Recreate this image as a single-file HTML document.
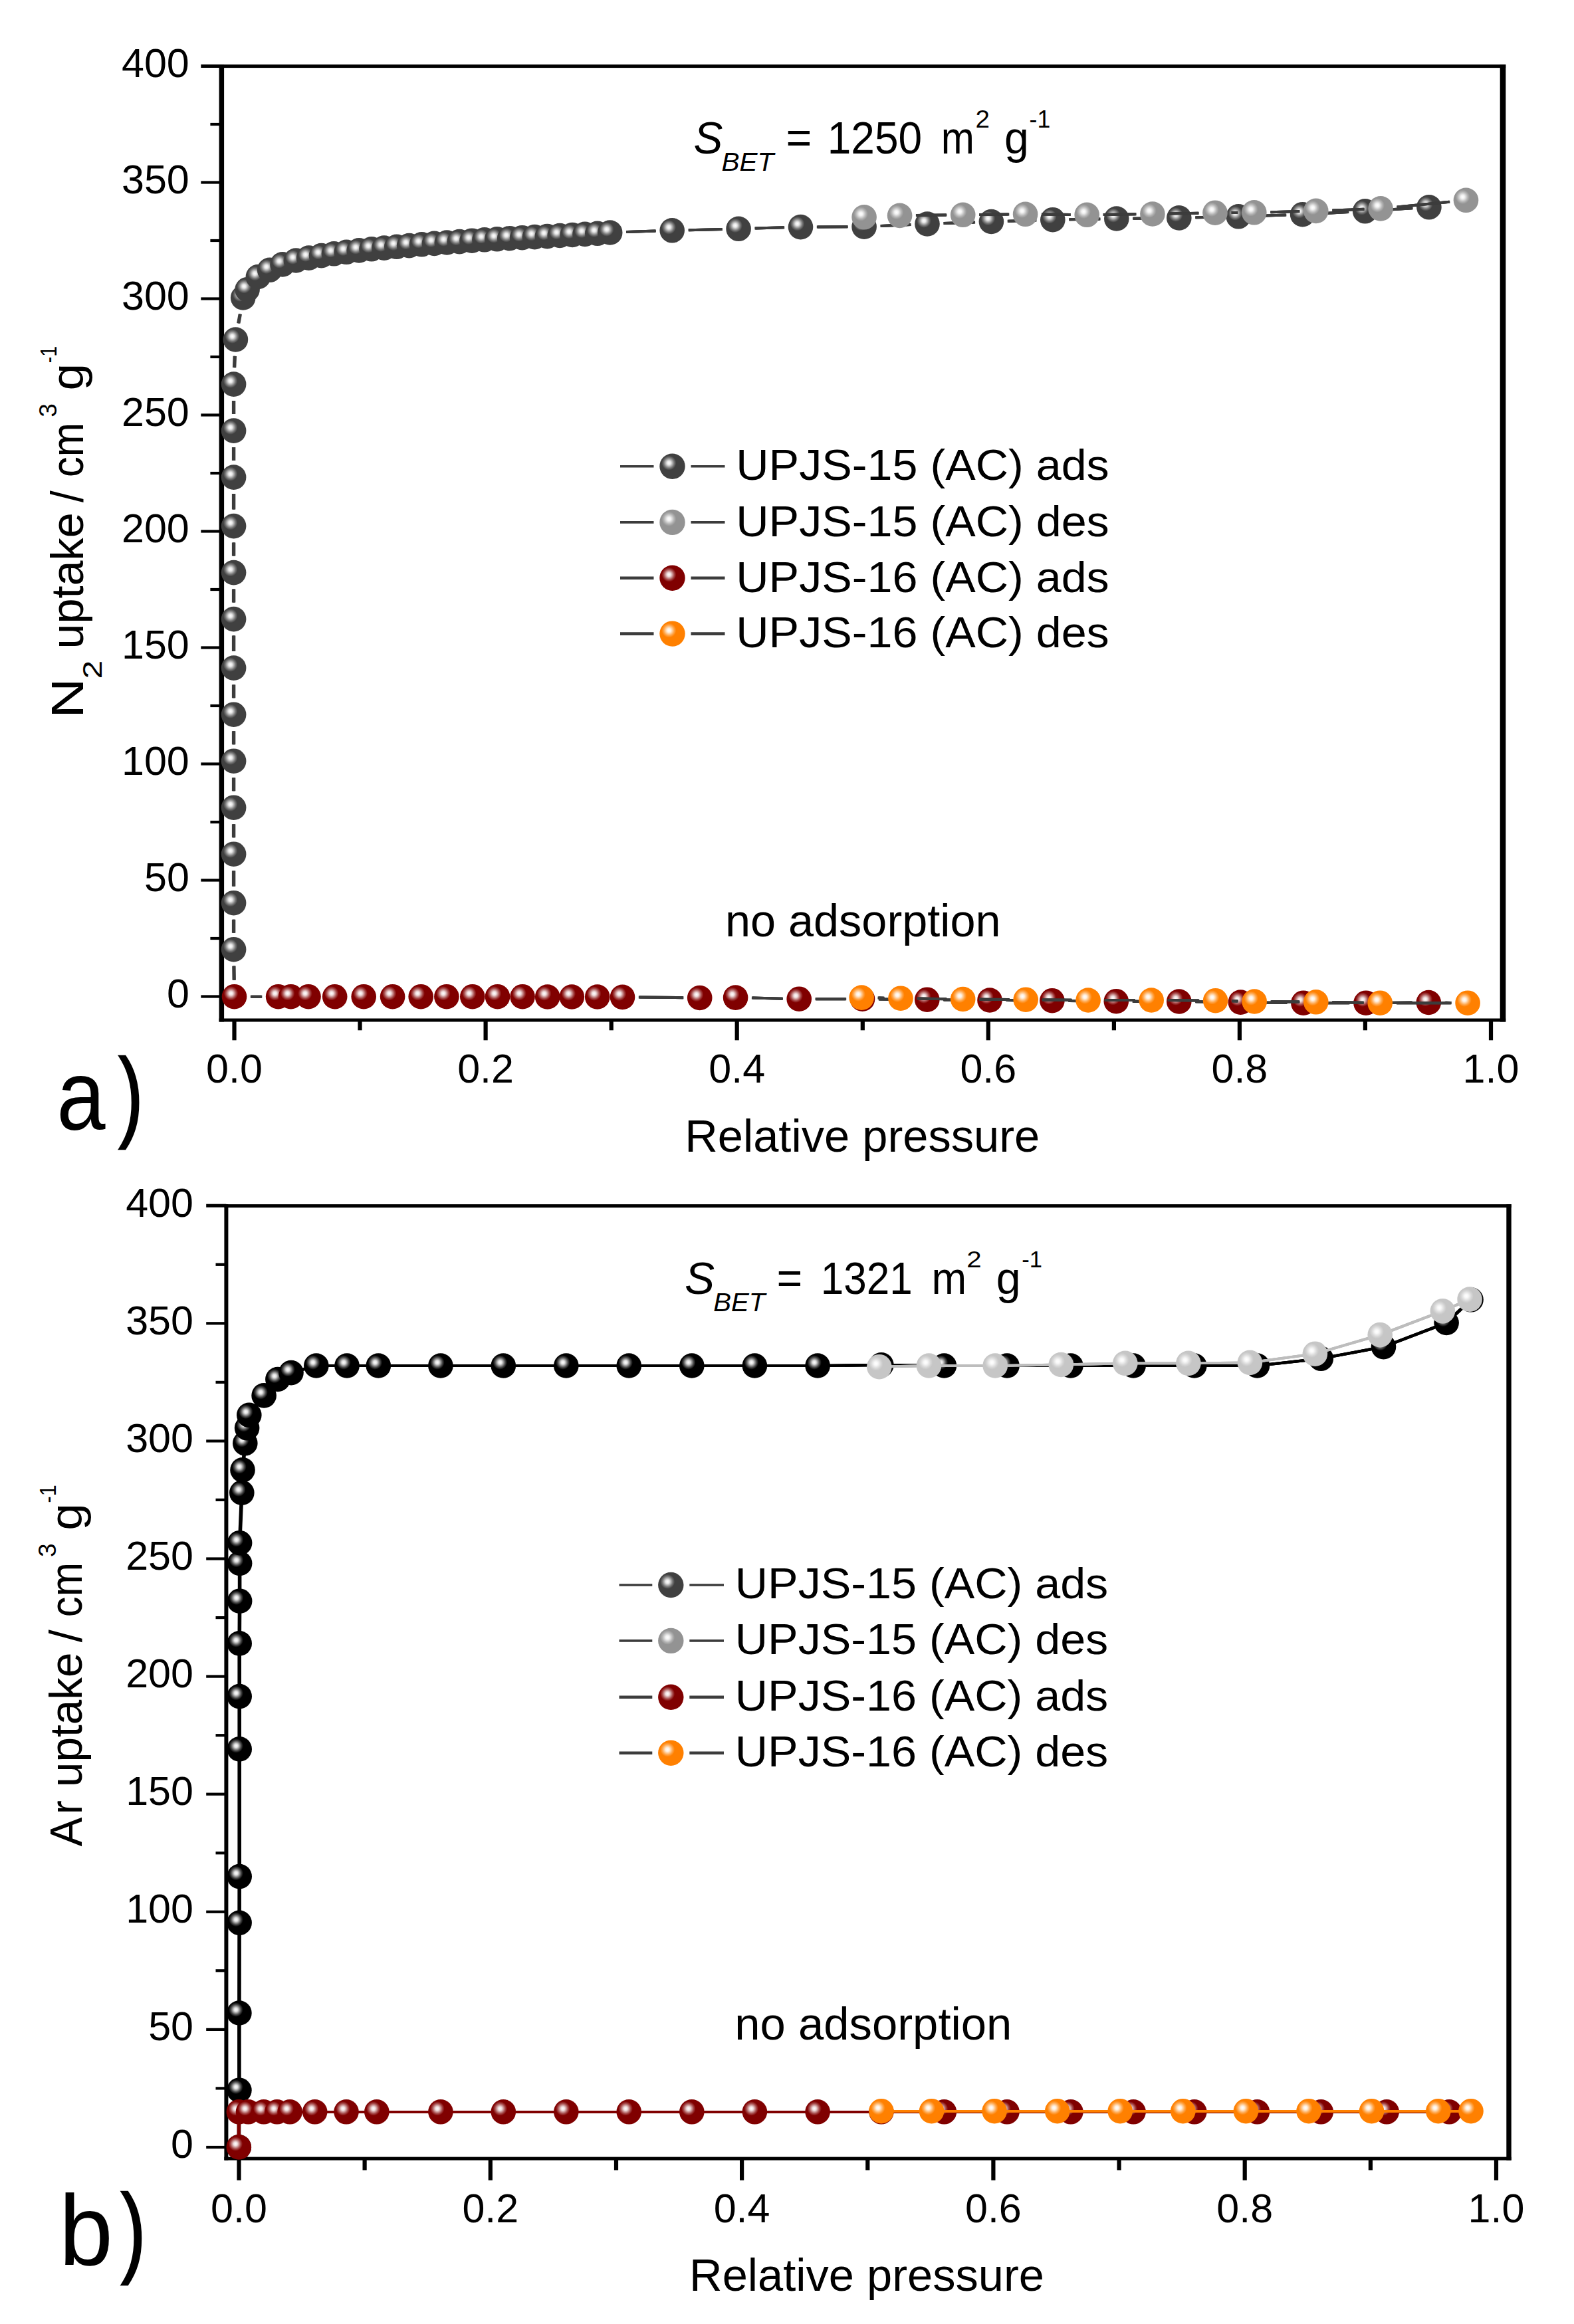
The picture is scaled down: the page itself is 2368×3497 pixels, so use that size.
<!DOCTYPE html>
<html lang="en"><head><meta charset="utf-8"><title>Adsorption isotherms</title>
<style>html,body{margin:0;padding:0;background:#fff}svg{display:block}text{font-family:'Liberation Sans', Arial, Helvetica, sans-serif;fill:#000}</style></head><body>
<svg width="2368" height="3497" viewBox="0 0 2368 3497">
<defs>
<radialGradient id="gdk" cx="0.368" cy="0.368" r="0.285" fx="0.368" fy="0.368"><stop offset="0" stop-color="#ffffff"/><stop offset="0.26" stop-color="#e8e8e8"/><stop offset="0.72" stop-color="#757575"/><stop offset="1" stop-color="#404040"/></radialGradient>
<radialGradient id="glt" cx="0.368" cy="0.368" r="0.285" fx="0.368" fy="0.368"><stop offset="0" stop-color="#ffffff"/><stop offset="0.26" stop-color="#f2f2f2"/><stop offset="0.72" stop-color="#b1b1b1"/><stop offset="1" stop-color="#939393"/></radialGradient>
<radialGradient id="gbk" cx="0.368" cy="0.368" r="0.285" fx="0.368" fy="0.368"><stop offset="0" stop-color="#ffffff"/><stop offset="0.26" stop-color="#e0e0e0"/><stop offset="0.72" stop-color="#474747"/><stop offset="1" stop-color="#000000"/></radialGradient>
<radialGradient id="gsl" cx="0.368" cy="0.368" r="0.285" fx="0.368" fy="0.368"><stop offset="0" stop-color="#ffffff"/><stop offset="0.26" stop-color="#f8f8f8"/><stop offset="0.72" stop-color="#d6d6d6"/><stop offset="1" stop-color="#c6c6c6"/></radialGradient>
<radialGradient id="grd" cx="0.368" cy="0.368" r="0.285" fx="0.368" fy="0.368"><stop offset="0" stop-color="#ffffff"/><stop offset="0.26" stop-color="#f0e0e0"/><stop offset="0.72" stop-color="#a44747"/><stop offset="1" stop-color="#800000"/></radialGradient>
<radialGradient id="gor" cx="0.368" cy="0.368" r="0.285" fx="0.368" fy="0.368"><stop offset="0" stop-color="#ffffff"/><stop offset="0.26" stop-color="#fff0e0"/><stop offset="0.72" stop-color="#ffa447"/><stop offset="1" stop-color="#ff8000"/></radialGradient>
</defs>
<rect width="2368" height="3497" fill="#fff"/>
<g fill="#000">
<rect x="329.6" y="97.1" width="7.5" height="1440.4"/>
<rect x="2256.7" y="97.1" width="8.6" height="1440.4"/>
<rect x="329.6" y="97.1" width="1935.6" height="5.0"/>
<rect x="329.6" y="1532.5" width="1935.6" height="5.0"/>
<rect x="302.3" y="1497.4" width="31.1" height="4.2"/>
<rect x="316.4" y="1409.9" width="17" height="4.2"/>
<rect x="302.3" y="1322.4" width="31.1" height="4.2"/>
<rect x="316.4" y="1234.9" width="17" height="4.2"/>
<rect x="302.3" y="1147.4" width="31.1" height="4.2"/>
<rect x="316.4" y="1059.9" width="17" height="4.2"/>
<rect x="302.3" y="972.4" width="31.1" height="4.2"/>
<rect x="316.4" y="884.9" width="17" height="4.2"/>
<rect x="302.3" y="797.4" width="31.1" height="4.2"/>
<rect x="316.4" y="709.9" width="17" height="4.2"/>
<rect x="302.3" y="622.4" width="31.1" height="4.2"/>
<rect x="316.4" y="534.9" width="17" height="4.2"/>
<rect x="302.3" y="447.4" width="31.1" height="4.2"/>
<rect x="316.4" y="359.9" width="17" height="4.2"/>
<rect x="302.3" y="272.4" width="31.1" height="4.2"/>
<rect x="316.4" y="184.9" width="17" height="4.2"/>
<rect x="302.3" y="97" width="31.1" height="5.0"/>
<rect x="349.4" y="1535" width="6.2" height="30.3"/>
<rect x="538.4" y="1535" width="6.2" height="15.3"/>
<rect x="727.5" y="1535" width="6.2" height="30.3"/>
<rect x="916.6" y="1535" width="6.2" height="15.3"/>
<rect x="1105.6" y="1535" width="6.2" height="30.3"/>
<rect x="1294.7" y="1535" width="6.2" height="15.3"/>
<rect x="1483.7" y="1535" width="6.2" height="30.3"/>
<rect x="1672.8" y="1535" width="6.2" height="15.3"/>
<rect x="1861.8" y="1535" width="6.2" height="30.3"/>
<rect x="2050.8" y="1535" width="6.2" height="15.3"/>
<rect x="2239.9" y="1535" width="6.2" height="30.3"/>
</g>
<g stroke="#3c3c3c" stroke-width="4.0" fill="none"><path id="ln1" d="M352.2 1474.7L351.9 1453.6M351.6 1403.7L351.6 1383.7M351.6 1333.7L351.6 1310.2M351.6 1260.2L351.6 1240.2M351.6 1190.2L351.6 1170.2M351.6 1120.2L351.6 1100.2M351.6 1050.2L351.6 1030.2M351.6 980.1L351.6 956.6M351.6 906.6L351.6 886.6M351.6 836.6L351.6 816.6M351.6 766.6L351.6 743.1M351.6 693.1L351.6 673.1M351.6 623.1L351.6 603.1M352.6 553.2L353.3 535.9M358.8 486.3L361.3 472.6M942.7 349.1L986.2 347.6M1036.2 346.2L1086.2 345M1136.1 343.6L1179.5 342.3M1229.5 341.5L1275.1 341.3M1325.1 340.1L1370 338.1M1420 336.1L1466.4 334.4M1516.4 332.7L1558.8 331.5M1608.8 330.2L1654.9 329.4M1704.8 328.7L1748.8 328.2M1798.8 327.3L1838.2 326.4M1888.2 325L1934.6 323.5M1984.5 321.4L2028.7 319M2078.6 316.2L2124.9 313.3"/><use href="#ln1" x="-0.7"/><use href="#ln1" x="0.7"/></g>
<g fill="url(#gdk)">
<circle cx="351.6" cy="1428.7" r="18.8"/><circle cx="351.6" cy="1358.7" r="18.8"/><circle cx="351.6" cy="1285.2" r="18.8"/><circle cx="351.6" cy="1215.2" r="18.8"/><circle cx="351.6" cy="1145.2" r="18.8"/><circle cx="351.6" cy="1075.2" r="18.8"/><circle cx="351.6" cy="1005.1" r="18.8"/><circle cx="351.6" cy="931.6" r="18.8"/><circle cx="351.6" cy="861.6" r="18.8"/><circle cx="351.6" cy="791.6" r="18.8"/><circle cx="351.6" cy="718.1" r="18.8"/><circle cx="351.6" cy="648.1" r="18.8"/><circle cx="351.6" cy="578.1" r="18.8"/><circle cx="354.4" cy="511" r="18.8"/><circle cx="365.7" cy="448" r="18.8"/><circle cx="372.1" cy="435.7" r="18.8"/><circle cx="388.4" cy="416.5" r="18.8"/><circle cx="405.7" cy="406.3" r="18.8"/><circle cx="425" cy="397.9" r="18.8"/><circle cx="445.3" cy="392" r="18.8"/><circle cx="464.6" cy="388.1" r="18.8"/><circle cx="483.5" cy="384.6" r="18.8"/><circle cx="502.4" cy="381.8" r="18.8"/><circle cx="521.2" cy="379.3" r="18.8"/><circle cx="540.1" cy="376.9" r="18.8"/><circle cx="559" cy="374.8" r="18.8"/><circle cx="577.9" cy="373.1" r="18.8"/><circle cx="596.8" cy="371.3" r="18.8"/><circle cx="615.6" cy="369.6" r="18.8"/><circle cx="634.5" cy="367.8" r="18.8"/><circle cx="653.4" cy="366.4" r="18.8"/><circle cx="672.3" cy="365" r="18.8"/><circle cx="691.2" cy="363.6" r="18.8"/><circle cx="710" cy="362.2" r="18.8"/><circle cx="728.9" cy="360.8" r="18.8"/><circle cx="747.8" cy="359.8" r="18.8"/><circle cx="766.7" cy="358.7" r="18.8"/><circle cx="785.6" cy="357.7" r="18.8"/><circle cx="804.4" cy="356.6" r="18.8"/><circle cx="823.3" cy="355.6" r="18.8"/><circle cx="842.2" cy="354.5" r="18.8"/><circle cx="861.1" cy="353.5" r="18.8"/><circle cx="880" cy="352.4" r="18.8"/><circle cx="898.8" cy="351.3" r="18.8"/><circle cx="917.7" cy="350" r="18.8"/><circle cx="1011.2" cy="346.8" r="18.8"/><circle cx="1111.1" cy="344.3" r="18.8"/><circle cx="1204.5" cy="341.6" r="18.8"/><circle cx="1300.1" cy="341.2" r="18.8"/><circle cx="1395" cy="337" r="18.8"/><circle cx="1491.4" cy="333.5" r="18.8"/><circle cx="1583.8" cy="330.7" r="18.8"/><circle cx="1679.8" cy="329" r="18.8"/><circle cx="1773.8" cy="327.9" r="18.8"/><circle cx="1863.2" cy="325.8" r="18.8"/><circle cx="1959.6" cy="322.7" r="18.8"/><circle cx="2053.7" cy="317.8" r="18.8"/><circle cx="2149.9" cy="311.8" r="18.8"/>
</g>
<g stroke="#3c3c3c" stroke-width="4.0" fill="none"><path id="ln2" d="M2180.6 303.7L2102 311.5M2052.1 314.8L2004.8 316.5M1954.8 318.1L1911.8 319.2M1861.8 320L1853 320.1M1803 320.7L1758.9 321.5M1708.9 322.3L1660.2 323M1610.2 323.1L1567.6 322.6M1517.6 322.6L1473.7 323.1M1423.7 323.6L1378.6 324.1"/><use href="#ln2" x="-0.7"/><use href="#ln2" x="0.7"/></g>
<g fill="url(#glt)">
<circle cx="1300.1" cy="326.8" r="18.8"/><circle cx="1353.6" cy="324.4" r="18.8"/><circle cx="1448.7" cy="323.3" r="18.8"/><circle cx="1542.6" cy="322.3" r="18.8"/><circle cx="1635.2" cy="323.3" r="18.8"/><circle cx="1733.9" cy="322" r="18.8"/><circle cx="1828" cy="320.2" r="18.8"/><circle cx="1886.8" cy="319.8" r="18.8"/><circle cx="1979.8" cy="317.4" r="18.8"/><circle cx="2077.1" cy="313.9" r="18.8"/><circle cx="2205.5" cy="301.3" r="18.8"/>
</g>
<g stroke="#3c3c3c" stroke-width="4.0" fill="none"><path id="ln3" d="M377.5 1499.7L393.6 1499.7M961.5 1500.6L1027.7 1501.2M1131.6 1501.6L1177.3 1502.7M1227.2 1503.2L1272.5 1503.2M1322.5 1503.5L1369.8 1504M1419.8 1504.4L1464 1504.8M1514 1505.1L1557.9 1505.5M1607.9 1505.9L1654.3 1506.4M1704.3 1506.8L1748.8 1507M1798.8 1507.3L1841.4 1507.8M1891.4 1508.4L1935.9 1508.9M1985.9 1509.2L2030 1509.2M2080 1509L2124.3 1508.6"/><use href="#ln3" x="-0.7"/><use href="#ln3" x="0.7"/></g>
<g fill="url(#grd)">
<circle cx="352.5" cy="1499.7" r="18.8"/><circle cx="418.6" cy="1499.7" r="18.8"/><circle cx="437.6" cy="1499.7" r="18.8"/><circle cx="464" cy="1499.7" r="18.8"/><circle cx="503.7" cy="1499.7" r="18.8"/><circle cx="547.2" cy="1499.7" r="18.8"/><circle cx="590.6" cy="1499.7" r="18.8"/><circle cx="633.2" cy="1499.7" r="18.8"/><circle cx="671.9" cy="1499.7" r="18.8"/><circle cx="710.8" cy="1499.7" r="18.8"/><circle cx="748.5" cy="1499.7" r="18.8"/><circle cx="786.1" cy="1499.7" r="18.8"/><circle cx="823.7" cy="1500" r="18.8"/><circle cx="860.3" cy="1500" r="18.8"/><circle cx="898.7" cy="1500" r="18.8"/><circle cx="936.5" cy="1500.4" r="18.8"/><circle cx="1052.7" cy="1501.5" r="18.8"/><circle cx="1106.6" cy="1501.1" r="18.8"/><circle cx="1202.2" cy="1503.2" r="18.8"/><circle cx="1297.5" cy="1503.2" r="18.8"/><circle cx="1394.8" cy="1504.2" r="18.8"/><circle cx="1489" cy="1505" r="18.8"/><circle cx="1582.9" cy="1505.7" r="18.8"/><circle cx="1679.3" cy="1506.7" r="18.8"/><circle cx="1773.8" cy="1507" r="18.8"/><circle cx="1866.4" cy="1508.1" r="18.8"/><circle cx="1960.9" cy="1509.2" r="18.8"/><circle cx="2055" cy="1509.2" r="18.8"/><circle cx="2149.3" cy="1508.5" r="18.8"/>
</g>
<g stroke="#3c3c3c" stroke-width="4.0" fill="none"><path id="ln4" d="M2174.3 1508.7L2183.1 1508.9M2183.1 1509.2L2101.2 1509.2M2051.2 1508.8L2004.8 1508.1M1954.8 1507.6L1912.2 1507.2M1862.2 1506.5L1853.6 1506.2M1803.6 1505.5L1757.2 1505.1M1707.2 1505L1662.1 1505M1612.1 1504.8L1568.2 1504.4M1518.2 1504.1L1473.7 1503.7M1423.7 1503.2L1380 1502.5M1330 1501.7L1321.2 1501.5"/><use href="#ln4" x="-0.7"/><use href="#ln4" x="0.7"/></g>
<g fill="url(#gor)">
<circle cx="1296.2" cy="1501.1" r="18.8"/><circle cx="1355" cy="1502.2" r="18.8"/><circle cx="1448.7" cy="1503.5" r="18.8"/><circle cx="1543.2" cy="1504.2" r="18.8"/><circle cx="1637.1" cy="1505" r="18.8"/><circle cx="1732.2" cy="1505" r="18.8"/><circle cx="1828.6" cy="1505.7" r="18.8"/><circle cx="1887.2" cy="1507" r="18.8"/><circle cx="1979.8" cy="1507.8" r="18.8"/><circle cx="2076.2" cy="1509.2" r="18.8"/><circle cx="2208.1" cy="1509.2" r="18.8"/>
</g>
<text x="250.9" y="1515.8" font-size="61">0</text>
<text x="217.0" y="1340.8" font-size="61">50</text>
<text x="183.0" y="1165.8" font-size="61">100</text>
<text x="183.0" y="990.8" font-size="61">150</text>
<text x="183.0" y="815.8" font-size="61">200</text>
<text x="183.0" y="640.8" font-size="61">250</text>
<text x="183.0" y="465.8" font-size="61">300</text>
<text x="183.0" y="290.8" font-size="61">350</text>
<text x="183.0" y="115.8" font-size="61">400</text>
<text x="310.1" y="1628.8" font-size="61">0.0</text>
<text x="688.2" y="1628.8" font-size="61">0.2</text>
<text x="1066.3" y="1628.8" font-size="61">0.4</text>
<text x="1444.4" y="1628.8" font-size="61">0.6</text>
<text x="1822.5" y="1628.8" font-size="61">0.8</text>
<text x="2200.6" y="1628.8" font-size="61">1.0</text>
<text transform="translate(1030.2,1732.8) scale(1.0095,1.0)" font-size="68">Relative pressure</text>
<text transform="translate(85.2,1699.8) scale(0.8784,1.0)" font-size="150">a</text>
<text transform="translate(178.5,1698.0) scale(0.7372,1.0)" font-size="150" stroke="#000" stroke-width="2.6">)</text>
<text transform="translate(1090.9,1409.2) scale(1.0064,1.0)" font-size="68">no adsorption</text>
<text transform="translate(1043.6,230.9) scale(0.9664,1.0)" font-size="68" font-style="italic">S</text>
<text transform="translate(1085.5,257.3) scale(1.0505,1.0)" font-size="38.6" font-style="italic">BET</text>
<text transform="translate(1182.6,230.9) scale(0.9765,1.0)" font-size="68">=</text>
<text transform="translate(1244.7,230.9) scale(0.9420,1.0)" font-size="68">1250</text>
<text transform="translate(1415.8,230.9) scale(0.8859,1.0)" font-size="68">m</text>
<text transform="translate(1467.4,191.7) scale(1.0726,1.0)" font-size="36">2</text>
<text transform="translate(1511.0,230.9) scale(0.9757,1.0)" font-size="68">g</text>
<text transform="translate(1548.6,191.7) scale(0.9889,1.0)" font-size="36">-1</text>
<path d="M933 701.7H983.5M1039.5 701.7H1090.5" stroke="#3c3c3c" stroke-width="3.6"/>
<circle cx="1011.5" cy="701.7" r="19.2" fill="url(#gdk)"/>
<text transform="translate(1107.3,722.3) scale(1.0669,1.0)" font-size="64">UPJS-15 (AC) ads</text>
<path d="M933 785.9H983.5M1039.5 785.9H1090.5" stroke="#3c3c3c" stroke-width="3.6"/>
<circle cx="1011.5" cy="785.9" r="19.2" fill="url(#glt)"/>
<text transform="translate(1107.3,806.7) scale(1.0669,1.0)" font-size="64">UPJS-15 (AC) des</text>
<path d="M933 869.7H983.5M1039.5 869.7H1090.5" stroke="#3c3c3c" stroke-width="4.6"/>
<circle cx="1011.5" cy="869.7" r="19.2" fill="url(#grd)"/>
<text transform="translate(1107.3,890.6) scale(1.0669,1.0)" font-size="64">UPJS-16 (AC) ads</text>
<path d="M933 953.6H983.5M1039.5 953.6H1090.5" stroke="#3c3c3c" stroke-width="4.6"/>
<circle cx="1011.5" cy="953.6" r="19.2" fill="url(#gor)"/>
<text transform="translate(1107.3,974.4) scale(1.0669,1.0)" font-size="64">UPJS-16 (AC) des</text>
<g transform="translate(125.4,1075) rotate(-90)">
<text transform="translate(-5.8,0.0) scale(1.2261,1.0)" font-size="68">N</text>
<text transform="translate(53.6,27.6) scale(1.2176,1.0)" font-size="41">2</text>
<text transform="translate(98.4,0.0) scale(1.0058,1.0)" font-size="68">uptake</text>
<text transform="translate(318.9,0.0) scale(0.9359,1.0)" font-size="68">/</text>
<text transform="translate(356.9,0.0) scale(0.9071,1.0)" font-size="68">cm</text>
<text transform="translate(447.2,-40.2) scale(1.0265,1.0)" font-size="36">3</text>
<text transform="translate(487.4,0.0) scale(1.0792,1.0)" font-size="68">g</text>
<text transform="translate(528.8,-40.2) scale(0.7918,1.0)" font-size="36">-1</text>
</g>
<g fill="#000">
<rect x="337.4" y="1812.1" width="6.0" height="1438.5"/>
<rect x="2266.3" y="1812.1" width="7.4" height="1438.5"/>
<rect x="337.4" y="1812.1" width="1936.3" height="5.0"/>
<rect x="337.4" y="3245.6" width="1936.3" height="5.0"/>
<rect x="310.2" y="3228.9" width="30.2" height="4.2"/>
<rect x="324.5" y="3140.3" width="15.9" height="4.2"/>
<rect x="310.2" y="3051.8" width="30.2" height="4.2"/>
<rect x="324.5" y="2963.2" width="15.9" height="4.2"/>
<rect x="310.2" y="2874.7" width="30.2" height="4.2"/>
<rect x="324.5" y="2786.2" width="15.9" height="4.2"/>
<rect x="310.2" y="2697.6" width="30.2" height="4.2"/>
<rect x="324.5" y="2609.1" width="15.9" height="4.2"/>
<rect x="310.2" y="2520.5" width="30.2" height="4.2"/>
<rect x="324.5" y="2432" width="15.9" height="4.2"/>
<rect x="310.2" y="2343.4" width="30.2" height="4.2"/>
<rect x="324.5" y="2254.8" width="15.9" height="4.2"/>
<rect x="310.2" y="2166.3" width="30.2" height="4.2"/>
<rect x="324.5" y="2077.8" width="15.9" height="4.2"/>
<rect x="310.2" y="1989.2" width="30.2" height="4.2"/>
<rect x="324.5" y="1900.7" width="15.9" height="4.2"/>
<rect x="310.2" y="1811.7" width="30.2" height="5.0"/>
<rect x="356.4" y="3248.1" width="6.2" height="32.6"/>
<rect x="545.5" y="3248.1" width="6.2" height="17.4"/>
<rect x="734.7" y="3248.1" width="6.2" height="32.6"/>
<rect x="923.9" y="3248.1" width="6.2" height="17.4"/>
<rect x="1113" y="3248.1" width="6.2" height="32.6"/>
<rect x="1302.2" y="3248.1" width="6.2" height="17.4"/>
<rect x="1491.3" y="3248.1" width="6.2" height="32.6"/>
<rect x="1680.5" y="3248.1" width="6.2" height="17.4"/>
<rect x="1869.6" y="3248.1" width="6.2" height="32.6"/>
<rect x="2058.8" y="3248.1" width="6.2" height="17.4"/>
<rect x="2247.9" y="3248.1" width="6.2" height="32.6"/>
</g>
<g stroke="#000" stroke-width="4.2" fill="none" stroke-linejoin="round"><path id="ln5" d="M359.3 3230.9L359.9 3145.2L359.9 3029L360.1 2893.3L360.2 2823.6L360.2 2631.9L360.2 2552.6L360.2 2472.9L360.6 2409.2L360.6 2352.5L360.6 2321.7L363.8 2246.2L365 2211.9L368.8 2171.8L371.6 2148.8L374.8 2129.3L397.1 2099.9L417.9 2075.5L438 2065.6L475.8 2055L522 2055L569.3 2055L662.9 2055L757.3 2055L851.8 2055L946.2 2055L1040.8 2055L1135.4 2055L1230.1 2055L1325.9 2053.9L1420.4 2055L1515 2055L1610.9 2055L1705.1 2055L1796.8 2055L1891.4 2055L1987.3 2044.3L2081.5 2026.6L2176.1 1990.5L2213 1955.8"/><use href="#ln5" x="-0.7"/><use href="#ln5" x="0.7"/></g>
<g fill="url(#gbk)">
<circle cx="359.3" cy="3230.9" r="18.8"/><circle cx="359.9" cy="3145.2" r="18.8"/><circle cx="359.9" cy="3029" r="18.8"/><circle cx="360.1" cy="2893.3" r="18.8"/><circle cx="360.2" cy="2823.6" r="18.8"/><circle cx="360.2" cy="2631.9" r="18.8"/><circle cx="360.2" cy="2552.6" r="18.8"/><circle cx="360.2" cy="2472.9" r="18.8"/><circle cx="360.6" cy="2409.2" r="18.8"/><circle cx="360.6" cy="2352.5" r="18.8"/><circle cx="360.6" cy="2321.7" r="18.8"/><circle cx="363.8" cy="2246.2" r="18.8"/><circle cx="365" cy="2211.9" r="18.8"/><circle cx="368.8" cy="2171.8" r="18.8"/><circle cx="371.6" cy="2148.8" r="18.8"/><circle cx="374.8" cy="2129.3" r="18.8"/><circle cx="397.1" cy="2099.9" r="18.8"/><circle cx="417.9" cy="2075.5" r="18.8"/><circle cx="438" cy="2065.6" r="18.8"/><circle cx="475.8" cy="2055" r="18.8"/><circle cx="522" cy="2055" r="18.8"/><circle cx="569.3" cy="2055" r="18.8"/><circle cx="662.9" cy="2055" r="18.8"/><circle cx="757.3" cy="2055" r="18.8"/><circle cx="851.8" cy="2055" r="18.8"/><circle cx="946.2" cy="2055" r="18.8"/><circle cx="1040.8" cy="2055" r="18.8"/><circle cx="1135.4" cy="2055" r="18.8"/><circle cx="1230.1" cy="2055" r="18.8"/><circle cx="1325.9" cy="2053.9" r="18.8"/><circle cx="1420.4" cy="2055" r="18.8"/><circle cx="1515" cy="2055" r="18.8"/><circle cx="1610.9" cy="2055" r="18.8"/><circle cx="1705.1" cy="2055" r="18.8"/><circle cx="1796.8" cy="2055" r="18.8"/><circle cx="1891.4" cy="2055" r="18.8"/><circle cx="1987.3" cy="2044.3" r="18.8"/><circle cx="2081.5" cy="2026.6" r="18.8"/><circle cx="2176.1" cy="1990.5" r="18.8"/><circle cx="2213" cy="1955.8" r="18.8"/>
</g>
<g stroke="#bdbdbd" stroke-width="3.8" fill="none" stroke-linejoin="round"><path id="ln6" d="M2211.1 1955.1L2170.4 1972.8L2076.2 2008.6L1978.4 2037.2L1880.4 2050.4L1787.9 2051.4L1692.8 2051.4L1596.3 2053.5L1497.2 2055L1397.5 2055L1322.8 2056.7"/><use href="#ln6" x="-0.7"/><use href="#ln6" x="0.7"/></g>
<g fill="url(#gsl)">
<circle cx="1322.8" cy="2056.7" r="18.8"/><circle cx="1397.5" cy="2055" r="18.8"/><circle cx="1497.2" cy="2055" r="18.8"/><circle cx="1596.3" cy="2053.5" r="18.8"/><circle cx="1692.8" cy="2051.4" r="18.8"/><circle cx="1787.9" cy="2051.4" r="18.8"/><circle cx="1880.4" cy="2050.4" r="18.8"/><circle cx="1978.4" cy="2037.2" r="18.8"/><circle cx="2076.2" cy="2008.6" r="18.8"/><circle cx="2170.4" cy="1972.8" r="18.8"/><circle cx="2211.1" cy="1955.1" r="18.8"/>
</g>
<g stroke="#800000" stroke-width="3.8" fill="none" stroke-linejoin="round"><path id="ln7" d="M359.3 3230.9L359.3 3177.8L373.5 3177.8L396.8 3177.8L416.8 3177.8L436.1 3177.8L473.7 3177.8L521 3177.8L566.8 3177.8L662.9 3177.8L757.3 3177.8L851.8 3177.8L946.2 3177.8L1040.8 3177.8L1135.4 3177.8L1230.1 3177.8L1325.9 3177.8L1420.4 3177.8L1515 3177.8L1610.9 3177.8L1705.1 3177.8L1796.8 3177.8L1891.4 3177.8L1987.3 3177.8L2086.2 3177.8L2180.2 3177.8"/><use href="#ln7" x="-0.7"/><use href="#ln7" x="0.7"/></g>
<g fill="url(#grd)">
<circle cx="359.3" cy="3230.9" r="18.8"/><circle cx="359.3" cy="3177.8" r="18.8"/><circle cx="373.5" cy="3177.8" r="18.8"/><circle cx="396.8" cy="3177.8" r="18.8"/><circle cx="416.8" cy="3177.8" r="18.8"/><circle cx="436.1" cy="3177.8" r="18.8"/><circle cx="473.7" cy="3177.8" r="18.8"/><circle cx="521" cy="3177.8" r="18.8"/><circle cx="566.8" cy="3177.8" r="18.8"/><circle cx="662.9" cy="3177.8" r="18.8"/><circle cx="757.3" cy="3177.8" r="18.8"/><circle cx="851.8" cy="3177.8" r="18.8"/><circle cx="946.2" cy="3177.8" r="18.8"/><circle cx="1040.8" cy="3177.8" r="18.8"/><circle cx="1135.4" cy="3177.8" r="18.8"/><circle cx="1230.1" cy="3177.8" r="18.8"/><circle cx="1325.9" cy="3177.8" r="18.8"/><circle cx="1420.4" cy="3177.8" r="18.8"/><circle cx="1515" cy="3177.8" r="18.8"/><circle cx="1610.9" cy="3177.8" r="18.8"/><circle cx="1705.1" cy="3177.8" r="18.8"/><circle cx="1796.8" cy="3177.8" r="18.8"/><circle cx="1891.4" cy="3177.8" r="18.8"/><circle cx="1987.3" cy="3177.8" r="18.8"/><circle cx="2086.2" cy="3177.8" r="18.8"/><circle cx="2180.2" cy="3177.8" r="18.8"/>
</g>
<g stroke="#ff8000" stroke-width="3.6" fill="none" stroke-linejoin="round"><path id="ln8" d="M2213 3176.7L2163.8 3176.7L2063.5 3176.7L1969 3176.7L1874.4 3176.7L1779.8 3176.7L1685.2 3176.7L1590.7 3176.7L1496.1 3176.7L1401.5 3176.7L1325.9 3176.7"/><use href="#ln8" x="-0.7"/><use href="#ln8" x="0.7"/></g>
<g fill="url(#gor)">
<circle cx="1325.9" cy="3176.7" r="18.8"/><circle cx="1401.5" cy="3176.7" r="18.8"/><circle cx="1496.1" cy="3176.7" r="18.8"/><circle cx="1590.7" cy="3176.7" r="18.8"/><circle cx="1685.2" cy="3176.7" r="18.8"/><circle cx="1779.8" cy="3176.7" r="18.8"/><circle cx="1874.4" cy="3176.7" r="18.8"/><circle cx="1969" cy="3176.7" r="18.8"/><circle cx="2063.5" cy="3176.7" r="18.8"/><circle cx="2163.8" cy="3176.7" r="18.8"/><circle cx="2213" cy="3176.7" r="18.8"/>
</g>
<text x="257.1" y="3247.3" font-size="61">0</text>
<text x="223.2" y="3070.2" font-size="61">50</text>
<text x="189.2" y="2893.1" font-size="61">100</text>
<text x="189.2" y="2716.0" font-size="61">150</text>
<text x="189.2" y="2538.9" font-size="61">200</text>
<text x="189.2" y="2361.8" font-size="61">250</text>
<text x="189.2" y="2184.7" font-size="61">300</text>
<text x="189.2" y="2007.6" font-size="61">350</text>
<text x="189.2" y="1830.5" font-size="61">400</text>
<text x="317.1" y="3344.3" font-size="61">0.0</text>
<text x="695.4" y="3344.3" font-size="61">0.2</text>
<text x="1073.7" y="3344.3" font-size="61">0.4</text>
<text x="1452.0" y="3344.3" font-size="61">0.6</text>
<text x="1830.3" y="3344.3" font-size="61">0.8</text>
<text x="2208.6" y="3344.3" font-size="61">1.0</text>
<text transform="translate(1037.1,3446.7) scale(1.0089,1.0)" font-size="68">Relative pressure</text>
<text transform="translate(88.8,3407.5) scale(0.9740,1.0)" font-size="150">b</text>
<text transform="translate(182.0,3407.0) scale(0.7443,1.0)" font-size="150" stroke="#000" stroke-width="2.6">)</text>
<text transform="translate(1105.3,3068.5) scale(1.0121,1.0)" font-size="68">no adsorption</text>
<text transform="translate(1030.1,1946.5) scale(0.9940,1.0)" font-size="68" font-style="italic">S</text>
<text transform="translate(1073.3,1972.9) scale(1.0401,1.0)" font-size="38.6" font-style="italic">BET</text>
<text transform="translate(1168.4,1946.5) scale(0.9765,1.0)" font-size="68">=</text>
<text transform="translate(1234.7,1946.5) scale(0.9122,1.0)" font-size="68">1321</text>
<text transform="translate(1401.4,1946.5) scale(0.9289,1.0)" font-size="68">m</text>
<text transform="translate(1454.3,1907.3) scale(1.1200,1.0)" font-size="36">2</text>
<text transform="translate(1498.8,1946.5) scale(0.9757,1.0)" font-size="68">g</text>
<text transform="translate(1537.2,1907.3) scale(0.9617,1.0)" font-size="36">-1</text>
<path d="M931.5 2385H981.3M1037.3 2385H1089" stroke="#3c3c3c" stroke-width="3.6"/>
<circle cx="1009.3" cy="2385" r="19.2" fill="url(#gdk)"/>
<text transform="translate(1105.8,2405.4) scale(1.0669,1.0)" font-size="64">UPJS-15 (AC) ads</text>
<path d="M931.5 2468.9H981.3M1037.3 2468.9H1089" stroke="#3c3c3c" stroke-width="3.6"/>
<circle cx="1009.3" cy="2468.9" r="19.2" fill="url(#glt)"/>
<text transform="translate(1105.8,2489.2) scale(1.0669,1.0)" font-size="64">UPJS-15 (AC) des</text>
<path d="M931.5 2553.8H981.3M1037.3 2553.8H1089" stroke="#3c3c3c" stroke-width="4.6"/>
<circle cx="1009.3" cy="2553.8" r="19.2" fill="url(#grd)"/>
<text transform="translate(1105.8,2574.1) scale(1.0669,1.0)" font-size="64">UPJS-16 (AC) ads</text>
<path d="M931.5 2637.7H981.3M1037.3 2637.7H1089" stroke="#3c3c3c" stroke-width="4.6"/>
<circle cx="1009.3" cy="2637.7" r="19.2" fill="url(#gor)"/>
<text transform="translate(1105.8,2658.0) scale(1.0669,1.0)" font-size="64">UPJS-16 (AC) des</text>
<g transform="translate(122.6,2779) rotate(-90)">
<text transform="translate(0.7,0.0) scale(0.9631,1.0)" font-size="68">A</text>
<text transform="translate(49.1,0.0) scale(0.9135,1.0)" font-size="68">r</text>
<text transform="translate(90.1,0.0) scale(0.9916,1.0)" font-size="68">uptake</text>
<text transform="translate(307.8,0.0) scale(1.0039,1.0)" font-size="68">/</text>
<text transform="translate(345.8,0.0) scale(0.9071,1.0)" font-size="68">cm</text>
<text transform="translate(436.0,-38.6) scale(1.0265,1.0)" font-size="36">3</text>
<text transform="translate(476.2,0.0) scale(1.0792,1.0)" font-size="68">g</text>
<text transform="translate(517.6,-38.6) scale(0.8428,1.0)" font-size="36">-1</text>
</g>
</svg></body></html>
